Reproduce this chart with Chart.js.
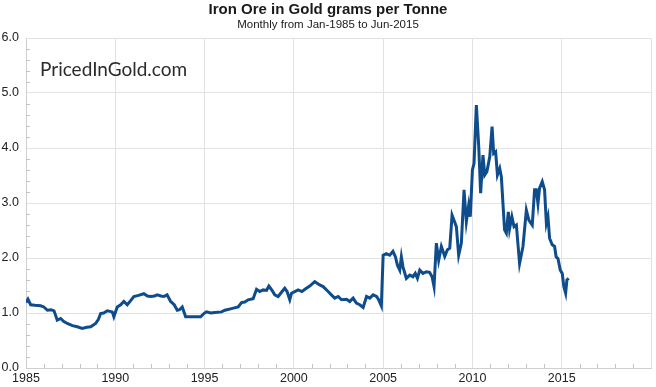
<!DOCTYPE html>
<html><head><meta charset="utf-8">
<script src="https://cdn.jsdelivr.net/npm/chart.js@4.4.0/dist/chart.umd.min.js"></script>
<style>html,body{margin:0;padding:0;background:#fff;}#wrap{width:656px;height:387px;}</style>
</head><body><div id="wrap"><canvas id="c" width="656" height="387"></canvas></div>
<script>
const titleText = 'Iron Ore in Gold grams per Tonne';
const subtitleText = 'Monthly from Jan-1985 to Jun-2015';
const watermarkText = 'PricedInGold.com';

// dates as decimal years, values in gold grams per tonne
const dates = [
1985.00,1985.11,1985.26,1985.50,1985.82,1986.00,1986.20,1986.40,1986.57,1986.75,1986.94,1987.10,1987.31,1987.60,1987.87,
1988.15,1988.40,1988.62,1988.90,1989.05,1989.18,1989.35,1989.55,1989.70,1989.83,1989.92,1990.11,1990.30,1990.48,1990.67,
1990.85,1991.04,1991.30,1991.60,1991.80,1991.98,1992.20,1992.35,1992.55,1992.72,1992.90,1993.10,1993.30,1993.47,1993.60,
1993.75,1993.94,1994.20,1994.50,1994.78,1994.96,1995.10,1995.35,1995.58,1995.95,1996.14,1996.51,1996.88,1997.07,1997.25,
1997.44,1997.72,1997.91,1998.09,1998.28,1998.47,1998.60,1998.78,1998.93,1999.12,1999.34,1999.49,1999.62,1999.77,1999.87,
2000.05,2000.24,2000.45,2000.70,2000.89,2001.17,2001.45,2001.64,2001.92,2002.10,2002.29,2002.48,2002.67,2002.95,2003.13,
2003.32,2003.50,2003.69,2003.88,2004.07,2004.25,2004.44,2004.63,2004.75,2004.90,2005.00,2005.18,2005.37,2005.55,2005.69,
2005.80,2005.93,2006.02,2006.11,2006.30,2006.49,2006.67,2006.80,2006.92,2007.05,2007.23,2007.42,2007.60,2007.74,2007.85,
2007.98,2008.11,2008.26,2008.45,2008.60,2008.73,2008.86,2009.00,2009.10,2009.23,2009.38,2009.53,2009.66,2009.79,2009.88,
2010.00,2010.09,2010.22,2010.35,2010.46,2010.59,2010.69,2010.81,2010.97,2011.10,2011.19,2011.30,2011.40,2011.53,2011.62,
2011.71,2011.80,2011.90,2012.01,2012.08,2012.21,2012.33,2012.46,2012.64,2012.83,2013.02,2013.16,2013.35,2013.48,2013.58,
2013.67,2013.76,2013.91,2014.04,2014.14,2014.23,2014.32,2014.47,2014.60,2014.69,2014.79,2014.92,2015.03,2015.12,2015.22,
2015.29,2015.39
];
const values = [
1.19,1.25,1.15,1.14,1.13,1.11,1.05,1.06,1.04,0.87,0.90,0.85,0.81,0.77,0.75,
0.72,0.74,0.75,0.81,0.88,0.99,1.00,1.04,1.03,1.02,0.93,1.11,1.15,1.21,1.15,
1.22,1.30,1.32,1.35,1.31,1.30,1.31,1.33,1.31,1.30,1.33,1.21,1.15,1.05,1.06,
1.11,0.93,0.93,0.93,0.93,0.99,1.02,1.00,1.01,1.02,1.05,1.08,1.11,1.19,1.20,
1.24,1.26,1.43,1.39,1.42,1.41,1.49,1.41,1.33,1.30,1.39,1.45,1.39,1.24,1.36,
1.39,1.42,1.39,1.45,1.49,1.57,1.51,1.48,1.39,1.33,1.27,1.30,1.24,1.25,1.21,
1.27,1.18,1.15,1.10,1.30,1.27,1.33,1.30,1.24,1.13,2.05,2.08,2.05,2.12,2.02,
1.87,1.78,2.02,1.84,1.63,1.69,1.66,1.72,1.63,1.78,1.72,1.75,1.74,1.66,1.48,
2.27,1.96,2.21,2.03,2.15,2.18,2.78,2.66,2.57,2.05,2.27,3.24,2.66,2.96,2.75,
3.60,3.72,4.78,4.05,3.18,3.87,3.51,3.57,3.84,4.39,3.90,3.93,3.51,3.63,3.48,
2.99,2.51,2.45,2.84,2.53,2.75,2.57,2.60,1.90,2.21,2.87,2.69,2.60,3.24,3.24,
2.99,3.27,3.39,3.24,2.63,2.75,2.36,2.24,2.21,2.02,1.99,1.78,1.72,1.48,1.36,
1.60,1.63
];
const xMin = 1985, xMax = 2020, xMajorStep = 5;
const yMin = 0, yMax = 6, yMajorStep = 1, yMinorStep = 0.2;

const FONT = "'Liberation Sans', Arial, Helvetica, sans-serif";

const decor = {
  id: 'decor',
  beforeDraw(chart) {
    const ctx = chart.ctx;
    ctx.save();
    ctx.fillStyle = '#ffffff';
    ctx.fillRect(0, 0, chart.width, chart.height);
    ctx.restore();
  },
  beforeDatasetsDraw(chart) {
    const ctx = chart.ctx, a = chart.chartArea;
    const xs = chart.scales.x, ys = chart.scales.y;
    ctx.save();
    ctx.strokeStyle = '#c4c4c4';
    ctx.lineWidth = 1;
    ctx.beginPath();
    for (let yr = xMin + 1; yr < xMax; yr++) {
      if ((yr - xMin) % xMajorStep === 0) continue;
      const px = Math.round(xs.getPixelForValue(yr)) + 0.5;
      ctx.moveTo(px, a.bottom);
      ctx.lineTo(px, a.bottom - 4);
    }
    for (let k = 1; k < Math.round((yMax - yMin) / yMinorStep); k++) {
      if (k % 5 === 0) continue;
      const py = Math.round(ys.getPixelForValue(yMin + k * yMinorStep)) + 0.5;
      ctx.moveTo(a.left, py);
      ctx.lineTo(a.left + 4, py);
    }
    ctx.stroke();
    // watermark
    ctx.fillStyle = '#2b2b2b';
    ctx.font = "19px Lato, 'Open Sans', sans-serif";
    ctx.textAlign = 'left';
    ctx.textBaseline = 'alphabetic';
    ctx.fillText(watermarkText, 40, 76);
    ctx.restore();
  },
  afterDraw(chart) {
    const ctx = chart.ctx;
    ctx.save();
    ctx.fillStyle = '#1a1a1a';
    ctx.textAlign = 'center';
    ctx.textBaseline = 'middle';
    ctx.font = 'bold 15px ' + FONT;
    ctx.fillText(titleText, chart.width / 2, 10);
    ctx.font = '11.5px ' + FONT;
    ctx.fillText(subtitleText, chart.width / 2, 25);
    ctx.restore();
  }
};

new Chart(document.getElementById('c'), {
  type: 'line',
  data: {
    datasets: [{
      data: dates.map((d, i) => ({ x: d, y: values[i] })),
      borderColor: '#0f4c8c',
      borderWidth: 3,
      pointRadius: 0,
      tension: 0,
      fill: false
    }]
  },
  options: {
    responsive: false,
    animation: false,
    devicePixelRatio: 1,
    layout: { padding: { top: 38, right: 5, left: 0, bottom: 0 } },
    plugins: { legend: { display: false }, tooltip: { enabled: false }, title: { display: false } },
    scales: {
      x: {
        type: 'linear', min: xMin, max: xMax,
        ticks: {
          stepSize: xMajorStep, autoSkip: false, maxRotation: 0, padding: 3,
          color: '#222', font: { family: FONT, size: 12.5 },
          callback: v => (v < xMax ? String(v) : '')
        },
        grid: { color: '#e2e2e2', drawTicks: false, lineWidth: 1 },
        border: { color: '#cfcfcf' },
        afterFit: s => { s.height = 19; }
      },
      y: {
        min: yMin, max: yMax,
        ticks: {
          stepSize: yMajorStep, padding: 7, color: '#222',
          font: { family: FONT, size: 12.5 },
          callback: v => Number(v).toFixed(1)
        },
        grid: { color: '#e2e2e2', drawTicks: false, lineWidth: 1 },
        border: { color: '#cfcfcf' },
        afterFit: s => { s.width = 26; }
      }
    }
  },
  plugins: [decor]
});
</script>
</body></html>
